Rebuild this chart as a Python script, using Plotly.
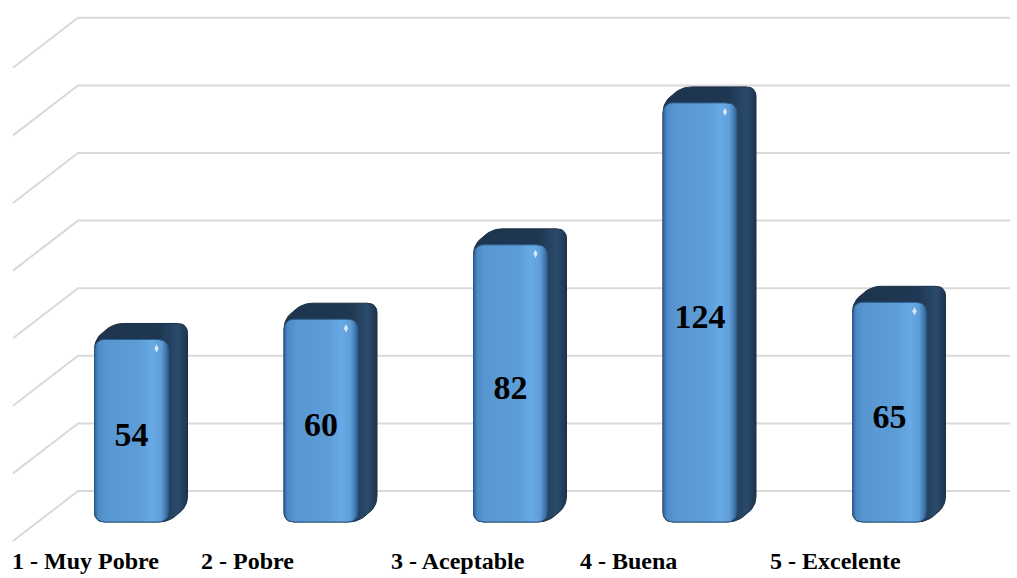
import numpy as np
import plotly.graph_objects as go

# ---- data ----
categories = ["1 - Muy Pobre", "2 - Pobre", "3 - Aceptable", "4 - Buena", "5 - Excelente"]
values = [54, 60, 82, 124, 65]
grid_values = [0, 20, 40, 60, 80, 100, 120, 140]

# ---- canvas / axis geometry ----
W, H = 1017, 578
SX = 189.5            # pixels per category step
SY = 3.38             # pixels per value unit
XMIN = -131.5 / SX
XMAX = XMIN + W / SX
YMIN = -(578 - 522) / SY
YMAX = YMIN + H / SY

HALF_W = 37 / SX                  # half width of the bar front face
DEPTH_X, DEPTH_Y = 19 / SX, 16 / SY   # extrusion of each bar
WALL_DY = 31 / SY                 # back wall offset above the bar base
FLOOR_DX, FLOOR_DY = 65 / SX, 50 / SY  # diagonal gridline run to the front
GRID_X0, GRID_X1 = (78 - 131.5) / SX, (1010 - 131.5) / SX

GRID = "#D9D9D9"
SERIF = "Times New Roman, Liberation Serif, serif"


def rounded(points, radius_px, steps=8):
    """Round polygon corners; points in data units, radius in pixels."""
    pts = np.array([[x * SX, y * SY] for x, y in points])
    n = len(pts)
    out = []
    for i in range(n):
        p, v, q = pts[i - 1], pts[i], pts[(i + 1) % n]
        a, b = p - v, q - v
        ra = min(radius_px, np.linalg.norm(a) / 2)
        rb = min(radius_px, np.linalg.norm(b) / 2)
        s = v + a / np.linalg.norm(a) * ra
        e = v + b / np.linalg.norm(b) * rb
        for t in np.linspace(0, 1, steps):
            out.append((1 - t) ** 2 * s + 2 * (1 - t) * t * v + t ** 2 * e)
    out.append(out[0])
    out = np.array(out)
    return list(out[:, 0] / SX), list(out[:, 1] / SY)


fig = go.Figure()

# back wall gridlines with their diagonal run on the left
for g in grid_values:
    yb = g + WALL_DY
    fig.add_trace(go.Scatter(
        x=[GRID_X0 - FLOOR_DX, GRID_X0, GRID_X1],
        y=[yb - FLOOR_DY, yb, yb],
        mode="lines", line=dict(color=GRID, width=2),
        hoverinfo="skip", showlegend=False))

# 3-D bars: dark extruded body, then the front face on top
for i, v in enumerate(values):
    x0, x1 = i - HALF_W, i + HALF_W
    body = [(x0, 0), (x0, v), (x0 + DEPTH_X, v + DEPTH_Y),
            (x1 + DEPTH_X, v + DEPTH_Y), (x1 + DEPTH_X, DEPTH_Y), (x1, 0)]
    bx, by = rounded(body, 10)
    fig.add_trace(go.Scatter(
        x=bx, y=by, fill="toself", mode="lines",
        line=dict(color="#1A2E45", width=1),
        fillgradient=dict(type="horizontal",
                          colorscale=[[0, "#1E344E"], [0.7, "#1F3752"],
                                      [0.9, "#2A4B6C"], [1, "#1E344E"]]),
        hoverinfo="skip", showlegend=False))

    front = [(x0, 0), (x0, v), (x1, v), (x1, 0)]
    fx, fy = rounded(front, 11)
    fig.add_trace(go.Scatter(
        x=fx, y=fy, fill="toself", mode="lines",
        line=dict(color="#2E5A86", width=1),
        fillgradient=dict(type="horizontal",
                          colorscale=[[0, "#2F5F91"], [0.05, "#4C8AC6"],
                                      [0.15, "#5896D1"], [0.6, "#5C9DD8"],
                                      [0.78, "#68AAE6"], [0.9, "#5E9DD8"],
                                      [0.97, "#3E74AA"], [1, "#2C5580"]]),
        hoverinfo="skip", showlegend=False))

    # small specular glint near the top right corner
    fig.add_trace(go.Scatter(
        x=[x1 - 12 / SX], y=[v - 9 / SY], mode="markers",
        marker=dict(size=6, symbol="diamond-tall",
                    color="rgba(235,245,255,0.85)", line=dict(width=0)),
        hoverinfo="skip", showlegend=False))

# value labels centred on each front face
fig.add_trace(go.Scatter(
    x=list(range(len(values))), y=[v / 2 - 7 / SY for v in values],
    mode="text", text=[f"<b>{v}</b>" for v in values],
    textposition="middle center",
    textfont=dict(family=SERIF, size=34, color="#000000"),
    hoverinfo="skip", showlegend=False))

# category labels along the floor front edge
for i, c in enumerate(categories):
    fig.add_annotation(
        x=i - 122 / SX, y=-(561 - 522) / SY, text=f"<b>{c}</b>",
        xanchor="left", yanchor="middle", showarrow=False,
        font=dict(family=SERIF, size=24, color="#000000"))

fig.update_layout(
    width=W, height=H,
    margin=dict(l=0, r=0, t=0, b=0),
    paper_bgcolor="white", plot_bgcolor="white",
    xaxis=dict(range=[XMIN, XMAX], visible=False, fixedrange=True),
    yaxis=dict(range=[YMIN, YMAX], visible=False, fixedrange=True),
    showlegend=False,
)

fig.write_html("out.html")
